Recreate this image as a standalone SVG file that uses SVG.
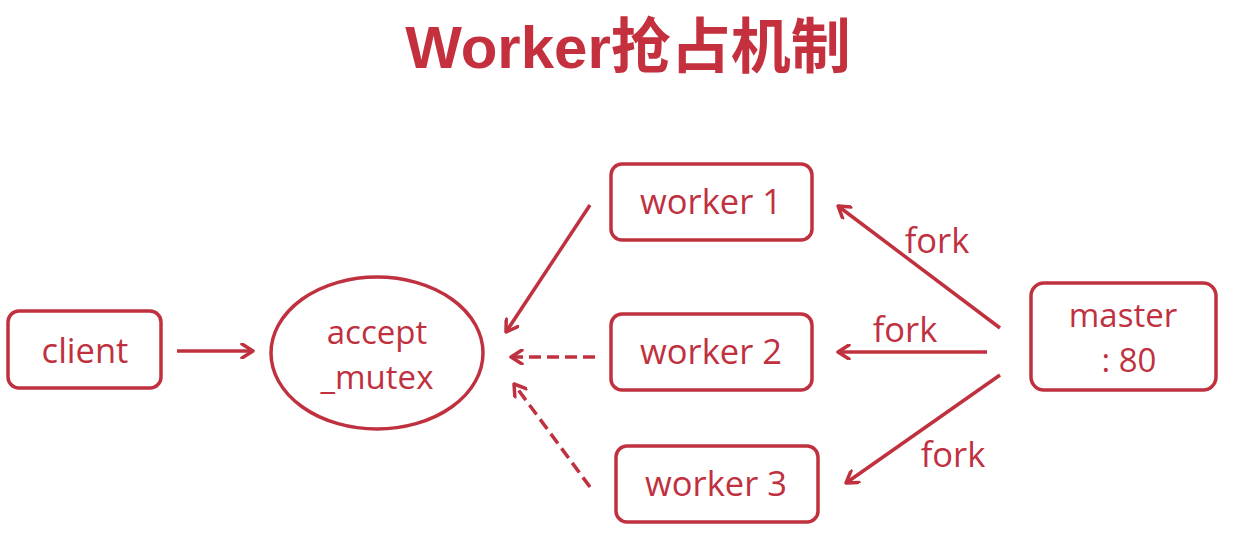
<svg xmlns="http://www.w3.org/2000/svg" width="1238" height="553" viewBox="0 0 1238 553">
<defs>
<style>
.box{fill:#fff;stroke:#C0313F;stroke-width:3.5}
.t{font-family:"Open Sans","Noto Sans","Liberation Sans",sans-serif;font-size:34.5px;fill:#C0313F;text-anchor:middle}
.t2{font-family:"Open Sans","Noto Sans","Liberation Sans",sans-serif;font-size:33px;fill:#C0313F;text-anchor:middle}
.c{fill:none;stroke:#C0313F;stroke-width:3.5}
.d{stroke-dasharray:12 6}
</style>
<marker id="ah" viewBox="0 0 16 16" refX="14" refY="8" markerWidth="16" markerHeight="16" markerUnits="userSpaceOnUse" orient="auto">
<path d="M3,1 L14,8 L3,15" fill="none" stroke="#C0313F" stroke-width="3.5" stroke-linecap="round" stroke-linejoin="round"/>
</marker>
</defs>
<rect width="1238" height="553" fill="#fff"/>
<text x="628" y="68" font-family="'Liberation Sans','Noto Sans CJK SC',sans-serif" font-weight="bold" font-size="60" fill="#C5303F" text-anchor="middle">Worker抢占机制</text>
<g id="client"><rect class="box" x="8" y="311" width="153" height="77" rx="11"/><text class="t" x="85" y="363">client</text></g>
<g id="accept_mutex"><ellipse class="box" cx="377" cy="353" rx="106" ry="76"/><text class="t2" x="377" y="344">accept</text><text class="t2" x="377" y="389">_mutex</text></g>
<g id="worker1"><rect class="box" x="611" y="164" width="201" height="76" rx="11"/><text class="t" x="711" y="214">worker 1</text></g>
<g id="worker2"><rect class="box" x="611" y="314" width="201" height="76" rx="11"/><text class="t" x="711" y="364">worker 2</text></g>
<g id="worker3"><rect class="box" x="616" y="446" width="202" height="76" rx="11"/><text class="t" x="716" y="496">worker 3</text></g>
<g id="master"><rect class="box" x="1031" y="283" width="185" height="107" rx="13"/><text class="t2" x="1123" y="327">master</text><text class="t2" x="1129" y="372">: 80</text></g>
<g id="connectors">
<line class="c" x1="177" y1="351" x2="253" y2="351" marker-end="url(#ah)"/>
<line class="c" x1="590" y1="205" x2="506" y2="332" marker-end="url(#ah)"/>
<line class="c d" x1="595" y1="357" x2="511" y2="357" marker-end="url(#ah)"/>
<line class="c d" x1="590" y1="487" x2="514" y2="384" marker-end="url(#ah)"/>
<line class="c" x1="1000" y1="328" x2="838" y2="206" marker-end="url(#ah)"/>
<line class="c" x1="987" y1="352" x2="838" y2="352" marker-end="url(#ah)"/>
<line class="c" x1="1000" y1="375" x2="846" y2="483" marker-end="url(#ah)"/>
<text class="t" x="937" y="253">fork</text>
<text class="t" x="905" y="342">fork</text>
<text class="t" x="953" y="467">fork</text>
</g>
</svg>
